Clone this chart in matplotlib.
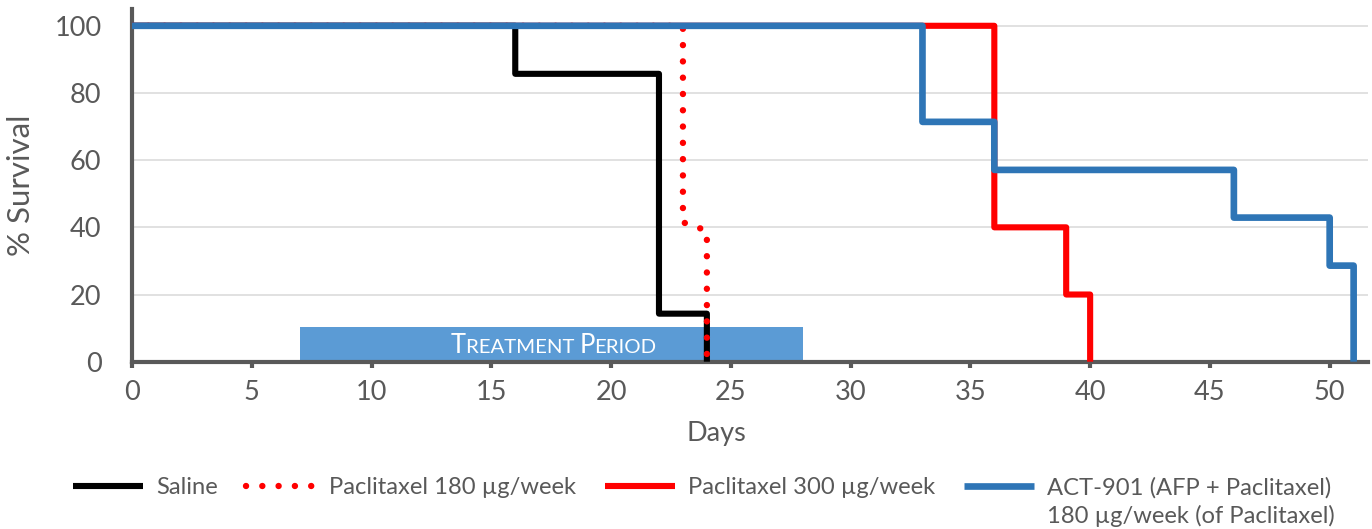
import matplotlib
matplotlib.use("Agg")
import matplotlib.pyplot as plt
from matplotlib.text import Annotation

# survival data (days, % survival)
saline_days = [0, 16, 22, 24]
saline_surv = [100, 85.7, 14.3, 0]

pac180_days = [0, 23, 23, 24, 24]
pac180_surv = [100, 100, 41.5, 39, 0]

pac300_days = [0, 36, 39, 40]
pac300_surv = [100, 40, 20, 0]

act901_days = [0, 33, 36, 46, 50, 51]
act901_surv = [100, 71.4, 57.1, 42.9, 28.6, 0]

labels = ["Saline", "Paclitaxel 180 µg/week", "Paclitaxel 300 µg/week",
          "ACT-901 (AFP + Paclitaxel)"]
label_extra = "180 µg/week (of Paclitaxel)"

treatment_start, treatment_end = 7, 28
treatment_height = 10.4

GRAY = "#595959"
plt.rcParams["font.family"] = ["Lato", "DejaVu Sans"]

fig = plt.figure(figsize=(13.72, 5.29), dpi=100)
ax = fig.add_axes([132 / 1372, 1 - 361.7 / 529, (1368 - 132) / 1372, (361.7 - 9) / 529])

ax.set_xlim(0, 51.6)
ax.set_ylim(0, 105)
ax.set_yticks(range(0, 101, 20))
ax.set_xticks(range(0, 51, 5))
ax.grid(axis="y", color="#D9D9D9", lw=1.1, zorder=0)
ax.set_axisbelow(True)

for s in ("top", "right"):
    ax.spines[s].set_visible(False)
for s in ("left", "bottom"):
    ax.spines[s].set_color(GRAY)
    ax.spines[s].set_linewidth(3)
ax.tick_params(axis="x", length=4.5, width=3, color=GRAY, pad=9,
               labelsize=19.5, labelcolor=GRAY)
ax.tick_params(axis="y", length=0, pad=22, labelsize=19.5, labelcolor=GRAY)

# treatment period bar
ax.bar((treatment_start + treatment_end) / 2, treatment_height,
       width=treatment_end - treatment_start, color="#5B9BD5", zorder=1)

common = dict(solid_joinstyle="round", solid_capstyle="butt", snap=False)
h1, = ax.plot(saline_days, saline_surv, drawstyle="steps-post", color="black",
              lw=4.4, label=labels[0], zorder=3, **common)
h2, = ax.plot(pac180_days, pac180_surv, color="#FF0000", lw=4.6,
              linestyle=(0, (0.01, 2.54)), dash_capstyle="round",
              label=labels[1], zorder=4, snap=False)
h3, = ax.plot(pac300_days, pac300_surv, drawstyle="steps-post", color="#FF0000",
              lw=4.4, label=labels[2], zorder=3, **common)
h4, = ax.plot(act901_days, act901_surv, drawstyle="steps-post", color="#2E75B6",
              lw=4.8, label=labels[3], zorder=5, **common)

ax.set_xlabel("Days", fontsize=19.5, color=GRAY)
ax.xaxis.set_label_coords((716 - 132) / 1236, (361.7 - 421) / 352.7)
ax.set_ylabel("% Survival", fontsize=22.5, color=GRAY, labelpad=14)

# "TREATMENT PERIOD" in small caps
base_y = 2.7
pieces = [("T", 18.4), ("REATMENT ", 14.7), ("P", 18.4), ("ERIOD", 14.7)]
first = ax.text(0, base_y, pieces[0][0], fontsize=pieces[0][1], color="white",
                va="baseline", ha="left", zorder=6)
prev = first
parts = [first]
for txt, size in pieces[1:]:
    prev = ax.annotate(txt, xy=(1, base_y), xycoords=(prev, "data"),
                       fontsize=size, color="white", va="baseline", ha="left",
                       zorder=6)
    parts.append(prev)
fig.canvas.draw()
x0 = parts[0].get_window_extent().x0
x1 = parts[-1].get_window_extent().x1
inv = ax.transData.inverted()
w = inv.transform((x1, 0))[0] - inv.transform((x0, 0))[0]
first.set_x((treatment_start + treatment_end) / 2 - w / 2 + 0.1)

leg = fig.legend(handles=[h1, h2, h3, h4], loc="upper center",
                 bbox_to_anchor=(702 / 1372, 1 - 465 / 529), ncol=4,
                 frameon=False, fontsize=17.1, handlelength=2.95,
                 handletextpad=0.55, columnspacing=1.2, borderpad=0)
for t in leg.get_texts():
    t.set_color(GRAY)

# second line of the last legend entry, drawn after the legend
extra = Annotation(label_extra, xy=(0, 0), xycoords=leg.get_texts()[3],
                   xytext=(0, -5), textcoords="offset points", va="top",
                   ha="left", fontsize=17.1, color=GRAY, annotation_clip=False)
extra.set_zorder(10)
fig.add_artist(extra)

fig.savefig("out.png", dpi=100)
